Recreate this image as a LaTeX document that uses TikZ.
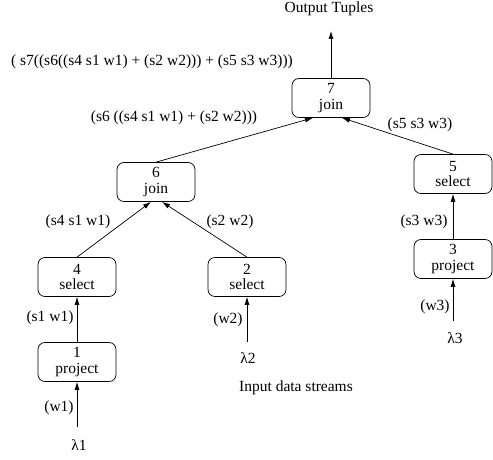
\documentclass[tikz,border=0pt]{standalone}
\usepackage{fontspec}
\setmainfont{Liberation Serif}
\usetikzlibrary{arrows.meta}

\tikzset{
  op/.style={draw, rounded corners=7pt, minimum width=78pt, minimum height=39pt,
    inner sep=0pt, align=center, font=\fontsize{15.5}{15.5}\selectfont},
  lbl/.style={inner sep=0pt, font=\fontsize{15.5}{15}\selectfont},
  arr/.style={-{Latex[length=8pt,width=5pt]}, line width=0.7pt}
}

\begin{document}
\begin{tikzpicture}[x=1pt,y=-1pt,line width=0.7pt]
\useasboundingbox (0,0) rectangle (493,460);
% operator boxes
\node[op] (n7) at (331,98) {7\\join};
\node[op] (n6) at (156,182) {6\\join};
\node[op] (n5) at (453,174) {5\\select};
\node[op] (n4) at (77,277) {4\\select};
\node[op] (n2) at (247,277) {2\\select};
\node[op] (n3) at (453,259) {3\\project};
\node[op] (n1) at (77,362) {1\\project};
% streams
\node[lbl] (l1) at (79,445) {λ1};
\node[lbl] (l2) at (248,358) {λ2};
\node[lbl] (l3) at (455,338) {λ3};
\coordinate (s1) at (77,427);
\coordinate (s2) at (247,342);
\coordinate (s3) at (453,321);
\coordinate (out) at (331,31);
% edges
\draw[arr] (s1) -- (n1.south);
\draw[arr] (n1.north) -- (n4.south);
\draw[arr] (s2) -- (n2.south);
\draw[arr] (s3) -- (n3.south);
\draw[arr] (n3.north) -- (n5.south);
\draw[arr] (n4.north) -- ([xshift=-5pt]n6.south);
\draw[arr] (n2.north) -- ([xshift=6pt]n6.south);
\draw[arr] (n6.north) -- ([xshift=-18pt]n7.south);
\draw[arr] (n5.north) -- ([xshift=11pt]n7.south);
\draw[arr] (n7.north) -- (out);
% edge labels
\node[lbl] (tout) at (329,9) {Output Tuples};
\node[lbl] (e7) at (152,62) {( s7((s6((s4 s1 w1) + (s2 w2))) + (s5 s3 w3)))};
\node[lbl] (e6) at (174,118) {(s6 ((s4 s1 w1) + (s2 w2)))};
\node[lbl] (e5) at (420,125) {(s5 s3 w3)};
\node[lbl] (e4) at (78,222) {(s4 s1 w1)};
\node[lbl] (e2) at (230,222) {(s2 w2)};
\node[lbl] (e3) at (424,222) {(s3 w3)};
\node[lbl] (e1) at (50,318) {(s1 w1)};
\node[lbl] (w2) at (228,320) {(w2)};
\node[lbl] (w3) at (435,307) {(w3)};
\node[lbl] (w1) at (59,408) {(w1)};
\node[lbl] (tin) at (296,388) {Input data streams};
\end{tikzpicture}
\end{document}
